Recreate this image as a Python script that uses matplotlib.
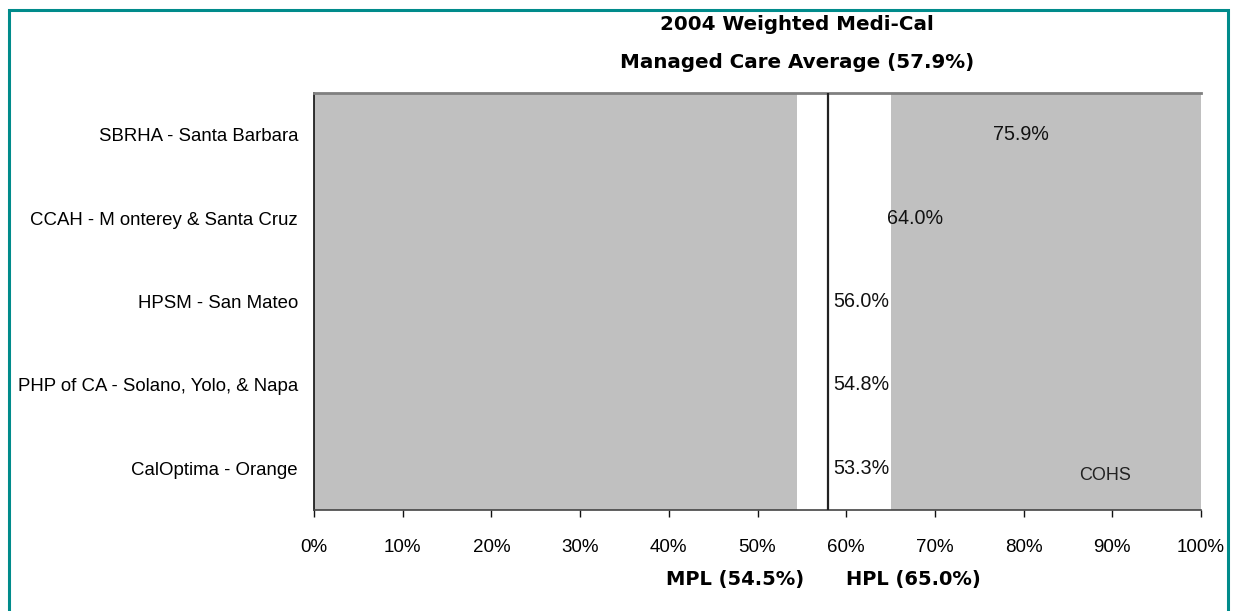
import matplotlib
matplotlib.use("Agg")
import matplotlib.pyplot as plt
from matplotlib.patches import Rectangle

# ---- data ----
plans = ["CalOptima - Orange",
         "PHP of CA - Solano, Yolo, & Napa",
         "HPSM - San Mateo",
         "CCAH - M onterey & Santa Cruz",
         "SBRHA - Santa Barbara"]
rates = [53.3, 54.8, 56.0, 64.0, 75.9]
average = 57.9
mpl_value = 54.5
hpl_value = 65.0
xticks = [0, 10, 20, 30, 40, 50, 60, 70, 80, 90, 100]
title_lines = ["2004 Weighted Medi-Cal", "Managed Care Average (57.9%)"]
group_label = "COHS"

GRAY = "#C0C0C0"
TEAL = "#008B8B"

fig = plt.figure(figsize=(12.36, 6.11), dpi=100)
ax = fig.add_axes([314 / 1236, 1 - 510 / 611, (1201 - 314) / 1236, (510 - 93) / 611])

ypos = list(range(len(plans)))
ax.set_xlim(0, 100)
ax.set_ylim(-0.5, len(plans) - 0.5)

# background bands
ax.axvspan(0, mpl_value, color=GRAY, lw=0, zorder=0)
ax.axvspan(hpl_value, 100, color=GRAY, lw=0, zorder=0)

# bars (no visible fill in the reference)
ax.barh(ypos, rates, height=0.5, color="none", edgecolor="none", zorder=1)

# average line
ax.axvline(average, color="#222222", lw=1.6, zorder=3)

# value labels
for y, v in zip(ypos, rates):
    xl = v + 0.6 if v >= average else average + 0.6
    ax.text(xl, y, f"{v:.1f}%", ha="left", va="center", fontsize=14.2,
            family="Liberation Sans", color="#111111", zorder=4)

ax.text(89.2, -0.09, group_label, transform=ax.transData, ha="center", va="center",
        fontsize=13, family="Liberation Sans", color="#222222")

# axes styling
ax.set_yticks(ypos)
ax.set_yticklabels(plans, fontsize=13.4, family="Liberation Sans")
ax.tick_params(axis="y", length=0, pad=11.5)
ax.set_xticks(xticks)
ax.set_xticklabels([f"{t}%" for t in xticks], fontsize=13.5, family="Liberation Sans")
ax.tick_params(axis="x", length=5, width=1, direction="out", pad=16, color="#111111")

ax.spines["right"].set_visible(False)
ax.spines["top"].set_color("#808080")
ax.spines["top"].set_linewidth(2)
ax.spines["left"].set_color("#111111")
ax.spines["left"].set_linewidth(1.2)
ax.spines["bottom"].set_color("#444444")
ax.spines["bottom"].set_linewidth(1.2)

# titles
fig.text(797 / 1236, 1 - 25 / 611, title_lines[0], ha="center", va="center",
         fontsize=14.3, fontweight="bold", family="DejaVu Sans")
fig.text(797 / 1236, 1 - 63 / 611, title_lines[1], ha="center", va="center",
         fontsize=14.3, fontweight="bold", family="DejaVu Sans")

# MPL / HPL labels
fig.text(735 / 1236, 1 - 580 / 611, f"MPL ({mpl_value:.1f}%)", ha="center", va="center",
         fontsize=14, fontweight="bold", family="DejaVu Sans")
fig.text(913 / 1236, 1 - 580 / 611, f"HPL ({hpl_value:.1f}%)", ha="center", va="center",
         fontsize=14, fontweight="bold", family="DejaVu Sans")

# teal frame
fig.patches.append(Rectangle((8.5 / 1236, -0.05), (1228 - 8.5) / 1236, 1.05 - 10 / 611,
                             transform=fig.transFigure, fill=False, edgecolor=TEAL, lw=2.2))

fig.savefig("out.png", dpi=100)
